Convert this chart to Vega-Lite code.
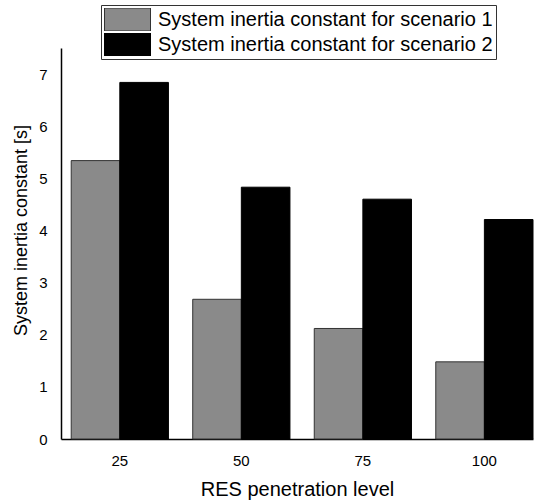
{
  "$schema": "https://vega.github.io/schema/vega-lite/v6.json",
  "autosize": {"type": "none"},
  "width": 472,
  "height": 391,
  "padding": {"left": 61, "top": 48, "right": 1, "bottom": 62},
  "background": "white",
  "config": {
    "font": "Liberation Sans",
    "view": {"stroke": null}
  },
  "data": {
    "values": [
      {"level": "25", "scenario": "System inertia constant for scenario 1", "value": 5.34},
      {"level": "25", "scenario": "System inertia constant for scenario 2", "value": 6.84},
      {"level": "50", "scenario": "System inertia constant for scenario 1", "value": 2.68},
      {"level": "50", "scenario": "System inertia constant for scenario 2", "value": 4.83},
      {"level": "75", "scenario": "System inertia constant for scenario 1", "value": 2.12},
      {"level": "75", "scenario": "System inertia constant for scenario 2", "value": 4.6},
      {"level": "100", "scenario": "System inertia constant for scenario 1", "value": 1.48},
      {"level": "100", "scenario": "System inertia constant for scenario 2", "value": 4.21}
    ]
  },
  "mark": {"type": "bar", "strokeWidth": 1},
  "encoding": {
    "x": {
      "field": "level",
      "type": "nominal",
      "sort": ["25", "50", "75", "100"],
      "scale": {"paddingInner": 0.2, "paddingOuter": 0.042, "align": 1},
      "axis": {
        "title": "RES penetration level",
        "titleFontSize": 20,
        "titleFontWeight": "normal",
        "titleColor": "black",
        "titlePadding": 11,
        "labelAngle": 0,
        "labelFontSize": 15,
        "labelColor": "black",
        "labelPadding": 14,
        "ticks": false,
        "domainColor": "black",
        "domainWidth": 1.5
      }
    },
    "xOffset": {
      "field": "scenario",
      "type": "nominal",
      "scale": {"paddingInner": 0, "paddingOuter": 0}
    },
    "y": {
      "field": "value",
      "type": "quantitative",
      "scale": {"domain": [0, 7.5], "nice": false},
      "axis": {
        "title": "System inertia constant [s]",
        "titleFontSize": 18,
        "titleFontWeight": "normal",
        "titleColor": "black",
        "titlePadding": 8,
        "titleY": 182,
        "values": [0, 1, 2, 3, 4, 5, 6, 7],
        "labelFontSize": 15,
        "labelColor": "black",
        "labelPadding": 14,
        "ticks": false,
        "grid": false,
        "domainColor": "black",
        "domainWidth": 1.5
      }
    },
    "color": {
      "field": "scenario",
      "type": "nominal",
      "scale": {"range": ["#8a8a8a", "#000000"]},
      "legend": {
        "title": null,
        "orient": "none",
        "legendX": 40,
        "legendY": -43,
        "symbolType": "M-1,-0.5H1V0.5H-1Z",
        "symbolSize": 2116,
        "symbolStrokeColor": "#555555",
        "symbolStrokeWidth": 1,
        "clipHeight": 23,
        "labelFontSize": 20,
        "labelColor": "black",
        "labelOffset": 7,
        "labelLimit": 0,
        "rowPadding": 2,
        "padding": 3,
        "strokeColor": "#333333",
        "fillColor": "white"
      }
    },
    "stroke": {
      "field": "scenario",
      "type": "nominal",
      "scale": {"range": ["#333333", "#000000"]},
      "legend": null
    }
  }
}
